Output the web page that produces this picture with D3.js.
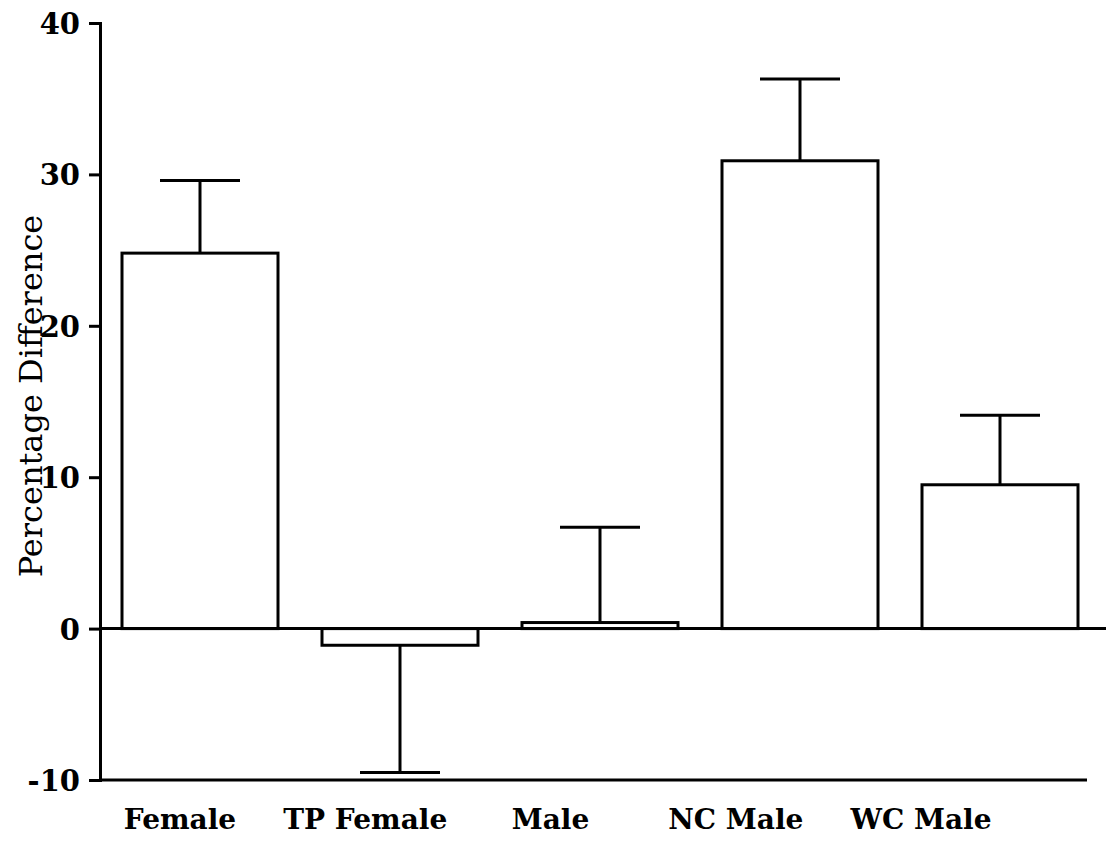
<!DOCTYPE html>
<html>
<head>
<meta charset="utf-8">
<script src="https://cdn.jsdelivr.net/npm/d3@7"></script>
<style>
  html, body { margin: 0; padding: 0; background: #fff; }
  svg { display: block; }
</style>
</head>
<body>
<svg id="chart" width="1106" height="855"></svg>
<script>
// ---- data ----
const categories = ["Female", "TP Female", "Male", "NC Male", "WC Male"];
const values     = [24.8, -1.1, 0.4, 30.9, 9.5];
const errorEnds  = [29.6, -9.5, 6.7, 36.3, 14.1];
const yTicks     = [40, 30, 20, 10, 0, -10];
const yLabel     = "Percentage Difference";

// ---- layout ----
const svg = d3.select("#chart");
const axisX = 100;

const y = d3.scaleLinear().domain([-10, 40]).range([780, 23]);
const x = d3.scaleBand().domain(categories).range([100, 1100])
  .paddingInner(0.22).paddingOuter(0.11);
const labelX = d3.scaleLinear().domain([0, categories.length - 1]).range([180, 921]);

const ink = "#000";

// y axis
const yAxis = d3.axisLeft(y).tickValues(yTicks).tickSize(11).tickPadding(9)
  .tickFormat(d => String(d));
const gy = svg.append("g").attr("transform", `translate(${axisX},0)`).call(yAxis);
gy.select(".domain").attr("stroke", ink).attr("stroke-width", 3);
gy.selectAll(".tick line").attr("stroke", ink).attr("stroke-width", 3);
gy.selectAll(".tick text")
  .attr("fill", ink)
  .style("font-family", "'DejaVu Serif', serif")
  .style("font-weight", "bold")
  .style("font-size", "29px")
  .attr("dy", "0.36em");

// bottom line at -10
svg.append("line")
  .attr("x1", axisX).attr("x2", 1087)
  .attr("y1", y(-10)).attr("y2", y(-10))
  .attr("stroke", ink).attr("stroke-width", 3);

// bars
const data = categories.map((c, i) => ({ c, v: values[i], e: errorEnds[i], i }));
svg.append("g").selectAll("rect").data(data).join("rect")
  .attr("x", d => x(d.c))
  .attr("width", x.bandwidth())
  .attr("y", d => y(Math.max(0, d.v)))
  .attr("height", d => Math.abs(y(d.v) - y(0)))
  .attr("fill", "#fff")
  .attr("stroke", ink)
  .attr("stroke-width", 3);

// zero line
svg.append("line")
  .attr("x1", axisX).attr("x2", 1106)
  .attr("y1", y(0)).attr("y2", y(0))
  .attr("stroke", ink).attr("stroke-width", 3);

// error bars
const capW = 80;
const eg = svg.append("g");
eg.selectAll("line.stem").data(data).join("line")
  .attr("class", "stem")
  .attr("x1", d => x(d.c) + x.bandwidth() / 2)
  .attr("x2", d => x(d.c) + x.bandwidth() / 2)
  .attr("y1", d => y(d.v))
  .attr("y2", d => y(d.e))
  .attr("stroke", ink).attr("stroke-width", 3);
eg.selectAll("line.cap").data(data).join("line")
  .attr("class", "cap")
  .attr("x1", d => x(d.c) + x.bandwidth() / 2 - capW / 2)
  .attr("x2", d => x(d.c) + x.bandwidth() / 2 + capW / 2)
  .attr("y1", d => y(d.e))
  .attr("y2", d => y(d.e))
  .attr("stroke", ink).attr("stroke-width", 3);

// category labels
svg.append("g").selectAll("text").data(data).join("text")
  .attr("x", d => labelX(d.i))
  .attr("y", 829)
  .attr("text-anchor", "middle")
  .attr("fill", ink)
  .style("font-family", "'DejaVu Serif', serif")
  .style("font-weight", "bold")
  .style("font-size", "28px")
  .text(d => d.c);

// y label
svg.append("text")
  .attr("transform", `translate(42, 396) rotate(-90)`)
  .attr("text-anchor", "middle")
  .attr("fill", ink)
  .style("font-family", "'DejaVu Serif', serif")
  .style("font-size", "32px")
  .text(yLabel);
</script>
</body>
</html>
